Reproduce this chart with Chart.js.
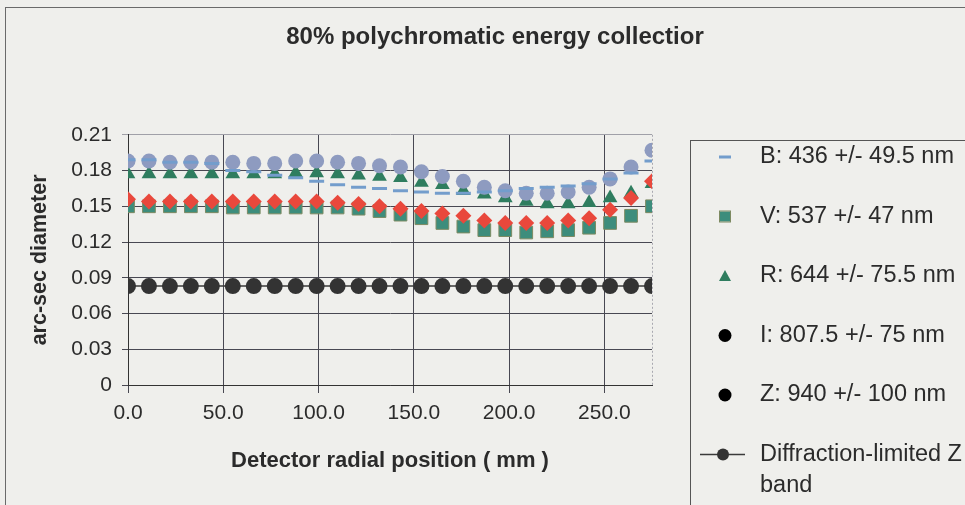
<!DOCTYPE html>
<html>
<head>
<meta charset="utf-8">
<script src="https://cdn.jsdelivr.net/npm/chart.js@4.4.0/dist/chart.umd.min.js"></script>
<style>
  html, body { margin: 0; padding: 0; background: #efefec; overflow: hidden; }
  #wrap { width: 990px; height: 505px; }
</style>
</head>
<body>
<div id="wrap"><canvas id="chart" width="990" height="505"></canvas></div>
<script>
// detector radial position (mm)
const radialPos = [0, 11, 22, 33, 44, 55, 66, 77, 88, 99, 110, 121, 132, 143, 154, 165, 176, 187, 198, 209, 220, 231, 242, 253, 264, 275];

// 80% energy diameters (arc-sec)
const bBand = [0.189, 0.189, 0.187, 0.187, 0.186, 0.180, 0.179, 0.176, 0.174, 0.171, 0.168, 0.166, 0.165, 0.163, 0.162, 0.161, 0.161, 0.162, 0.163, 0.165, 0.166, 0.167, 0.169, 0.173, 0.178, 0.188];
const vBand = [0.150, 0.150, 0.150, 0.150, 0.150, 0.149, 0.149, 0.149, 0.149, 0.149, 0.149, 0.148, 0.146, 0.143, 0.140, 0.136, 0.133, 0.130, 0.130, 0.128, 0.129, 0.130, 0.132, 0.136, 0.142, 0.150];
const rBand = [0.177, 0.177, 0.177, 0.177, 0.177, 0.177, 0.177, 0.177, 0.178, 0.178, 0.177, 0.176, 0.175, 0.174, 0.170, 0.168, 0.163, 0.160, 0.157, 0.154, 0.152, 0.152, 0.153, 0.157, 0.161, 0.169];
const iBand = [0.156, 0.154, 0.154, 0.154, 0.154, 0.154, 0.154, 0.154, 0.154, 0.154, 0.153, 0.152, 0.150, 0.148, 0.146, 0.144, 0.142, 0.138, 0.136, 0.136, 0.136, 0.138, 0.140, 0.147, 0.157, 0.171];
const zBand = [0.188, 0.188, 0.187, 0.187, 0.187, 0.187, 0.186, 0.186, 0.188, 0.188, 0.187, 0.186, 0.184, 0.183, 0.179, 0.175, 0.171, 0.166, 0.163, 0.161, 0.161, 0.162, 0.166, 0.173, 0.183, 0.197];
const diffLimitZ = [0.083, 0.083, 0.083, 0.083, 0.083, 0.083, 0.083, 0.083, 0.083, 0.083, 0.083, 0.083, 0.083, 0.083, 0.083, 0.083, 0.083, 0.083, 0.083, 0.083, 0.083, 0.083, 0.083, 0.083, 0.083, 0.083];

const seriesLabels = ['B: 436 +/- 49.5 nm', 'V: 537 +/- 47 nm', 'R: 644 +/- 75.5 nm', 'I: 807.5 +/- 75 nm', 'Z: 940 +/- 100 nm', ['Diffraction-limited Z', 'band']];
const yTicks = [0, 0.03, 0.06, 0.09, 0.12, 0.15, 0.18, 0.21];

const FONT = "'Liberation Sans', Arial, sans-serif";
const TEXT = '#2b2b2b';
const GRID = '#484852';

function pts(vals) {
    return radialPos.map((x, i) => ({ x: x, y: vals[i] }));
}

// background, outer frame and the boxed legend on the right
const framePlugin = {
    id: 'frame',
    beforeDraw(chart) {
        const ctx = chart.ctx;
        ctx.save();
        ctx.fillStyle = '#efefec';
        ctx.fillRect(0, 0, chart.width, chart.height);
        ctx.restore();
    },
    afterDraw(chart) {
        const ctx = chart.ctx;
        const a = chart.chartArea;
        ctx.save();
        // faint right border of plot
        ctx.strokeStyle = '#a8a8b0';
        ctx.setLineDash([2, 2]);
        ctx.lineWidth = 1;
        ctx.beginPath();
        ctx.moveTo(a.right + 0.5, a.top);
        ctx.lineTo(a.right + 0.5, a.bottom);
        ctx.stroke();
        ctx.setLineDash([]);

        // outer frame
        ctx.strokeStyle = '#6a6a6a';
        ctx.strokeRect(5.5, 7.5, chart.width + 20, chart.height + 20);

        // legend box
        ctx.strokeStyle = '#555';
        ctx.strokeRect(690.5, 140.5, 400, 400);

        const legendTop = 157, legendStep = 59.5, mx = 725, tx = 760;
        ctx.font = '23.5px ' + FONT;
        ctx.textBaseline = 'middle';
        ctx.textAlign = 'left';
        chart.data.datasets.forEach((ds, i) => {
            const y = legendTop + i * legendStep;
            ctx.save();
            if (i === 0) {
                ctx.strokeStyle = ds.pointBorderColor;
                ctx.lineWidth = 3;
                ctx.beginPath(); ctx.moveTo(mx - 6, y); ctx.lineTo(mx + 6, y); ctx.stroke();
            } else if (i === 1) {
                ctx.fillStyle = ds.pointBackgroundColor;
                ctx.strokeStyle = ds.pointBorderColor;
                ctx.fillRect(mx - 5, y - 5, 10, 10);
                ctx.strokeRect(mx - 5.5, y - 5.5, 11, 11);
            } else if (i === 2) {
                ctx.fillStyle = ds.pointBackgroundColor;
                ctx.beginPath(); ctx.moveTo(mx, y - 6); ctx.lineTo(mx + 6, y + 5); ctx.lineTo(mx - 6, y + 5); ctx.closePath(); ctx.fill();
            } else if (i === 3 || i === 4) {
                ctx.fillStyle = '#000';
                ctx.beginPath(); ctx.arc(mx, y, 6.5, 0, Math.PI * 2); ctx.fill();
            } else {
                ctx.strokeStyle = ds.borderColor;
                ctx.lineWidth = 1.5;
                ctx.beginPath(); ctx.moveTo(700, y); ctx.lineTo(745, y); ctx.stroke();
                ctx.fillStyle = ds.pointBackgroundColor;
                ctx.beginPath(); ctx.arc(mx - 2, y, 6, 0, Math.PI * 2); ctx.fill();
            }
            ctx.restore();
            ctx.fillStyle = TEXT;
            const lines = Array.isArray(ds.label) ? ds.label : [ds.label];
            lines.forEach((t, k) => ctx.fillText(t, tx, y + k * 31));
        });
        ctx.restore();
    }
};

new Chart(document.getElementById('chart'), {
    type: 'scatter',
    data: {
        datasets: [
            {
                label: seriesLabels[0], data: pts(bBand), order: 1,
                pointStyle: 'line', pointRadius: 7.5, pointBorderWidth: 3,
                pointBorderColor: '#739dcc', pointBackgroundColor: '#739dcc'
            },
            {
                label: seriesLabels[1], data: pts(vBand), order: 5,
                pointStyle: 'rect', pointRadius: 9, pointBorderWidth: 1,
                pointBackgroundColor: '#3d8d7c', pointBorderColor: '#7d8a62'
            },
            {
                label: seriesLabels[2], data: pts(rBand), order: 4,
                pointStyle: 'triangle', pointRadius: 8.5, pointBorderWidth: 0,
                pointBackgroundColor: '#2f7d5f', pointBorderColor: '#2f7d5f'
            },
            {
                label: seriesLabels[3], data: pts(iBand), order: 2,
                pointStyle: 'rectRot', pointRadius: 8, pointBorderWidth: 0,
                pointBackgroundColor: '#e9483c', pointBorderColor: '#e9483c'
            },
            {
                label: seriesLabels[4], data: pts(zBand), order: 3,
                pointStyle: 'circle', pointRadius: 7.5, pointBorderWidth: 0,
                pointBackgroundColor: '#8e9bc0', pointBorderColor: '#8e9bc0'
            },
            {
                label: seriesLabels[5], data: pts(diffLimitZ), order: 6,
                showLine: true, borderColor: '#3a3a3a', borderWidth: 1.5,
                pointStyle: 'circle', pointRadius: 8, pointBorderWidth: 0,
                pointBackgroundColor: '#333333', pointBorderColor: '#333333'
            }
        ]
    },
    options: {
        responsive: false,
        animation: false,
        devicePixelRatio: 1,
        layout: { padding: 0 },
        plugins: {
            legend: { display: false },
            tooltip: { enabled: false },
            title: {
                display: true,
                text: '80% polychromatic energy collectior',
                color: TEXT,
                font: { family: FONT, size: 24, weight: 'bold' },
                padding: { top: 23, bottom: 83 }
            }
        },
        scales: {
            x: {
                type: 'linear', min: 0, max: 275,
                ticks: {
                    stepSize: 50, includeBounds: false, padding: 8,
                    color: TEXT, font: { family: FONT, size: 21 },
                    callback: v => v.toFixed(1)
                },
                grid: { color: GRID, lineWidth: 1, tickLength: 8 },
                border: { color: '#333', width: 1 },
                title: {
                    display: true, text: 'Detector radial position ( mm )',
                    color: TEXT, font: { family: FONT, size: 22, weight: 'bold' },
                    padding: { top: 0, bottom: 31 }
                },
                afterFit(s) { s.height = 120; }
            },
            y: {
                min: 0, max: 0.21,
                afterBuildTicks(s) { s.ticks = yTicks.map(v => ({ value: v })); },
                ticks: {
                    padding: 10, color: TEXT, font: { family: FONT, size: 21 },
                    callback: v => v === 0 ? '0' : v.toFixed(2)
                },
                grid: {
                    color: c => (c.tick && c.tick.value > 0.2) ? '#a0a0a8' : GRID,
                    lineWidth: 1, tickLength: 6
                },
                border: { color: '#333', width: 1 },
                title: {
                    display: true, text: 'arc-sec diameter',
                    color: TEXT, font: { family: FONT, size: 21.5, weight: 'bold' },
                    padding: { top: 27, bottom: 0 }
                },
                afterFit(s) { s.width = 128; }
            },
            y2: {
                position: 'right', display: true,
                grid: { display: false }, border: { display: false },
                ticks: { display: false },
                afterFit(s) { s.width = 338; }
            }
        }
    },
    plugins: [framePlugin]
});
</script>
</body>
</html>
